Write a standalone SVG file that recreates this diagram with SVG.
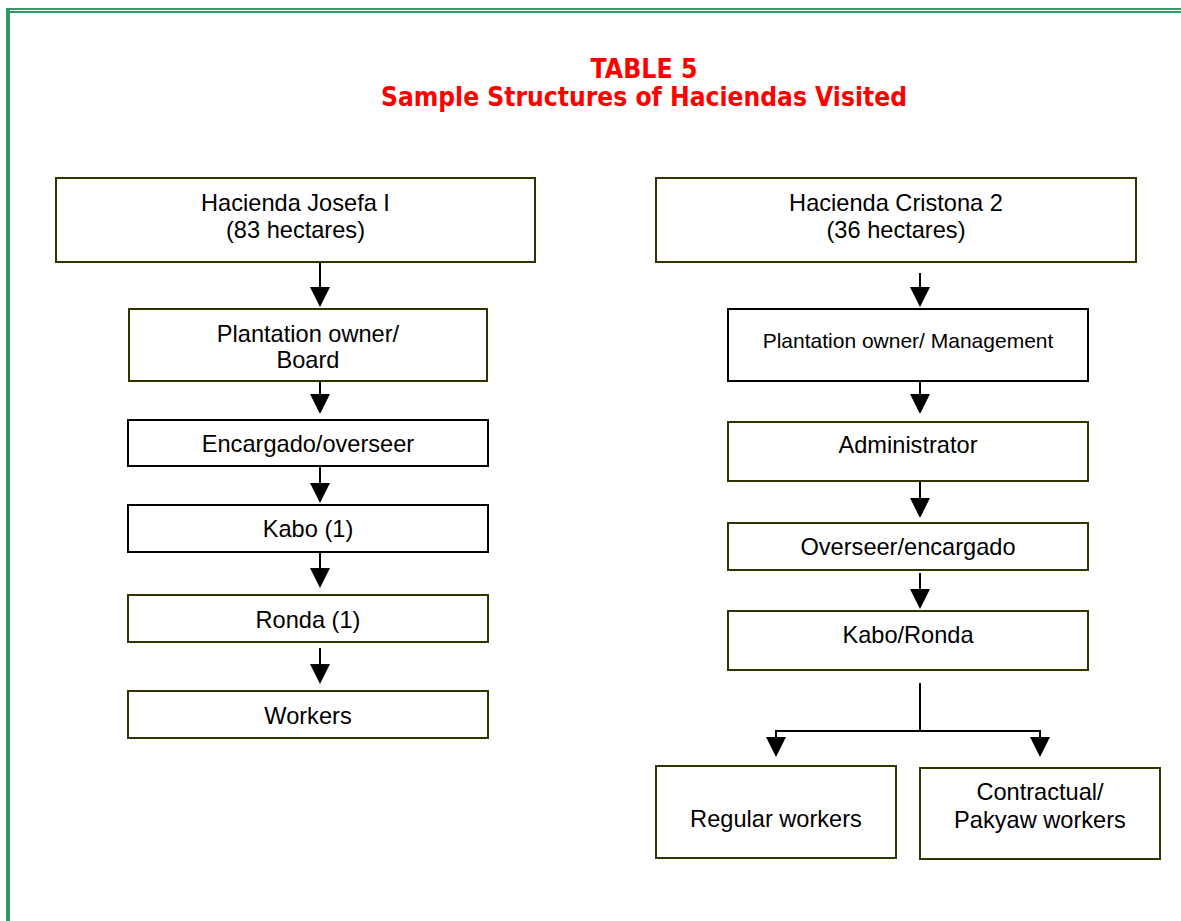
<svg xmlns="http://www.w3.org/2000/svg" width="1181" height="921" viewBox="0 0 1181 921">
<style>
.box{fill:#ffffff;stroke:#333300;stroke-width:2}
.boxk{fill:#ffffff;stroke:#000000;stroke-width:2}
.t{font-family:"Liberation Sans",Arial,sans-serif;font-size:23.6px;fill:#000000;text-anchor:middle}
.ts{font-family:"Liberation Sans",Arial,sans-serif;font-size:21px;fill:#000000;text-anchor:middle}
.title{font-family:"DejaVu Sans",Verdana,sans-serif;font-weight:bold;font-size:26px;fill:#ff0000;text-anchor:middle}
.c{stroke:#000000;stroke-width:2;fill:none}
.c.a{marker-end:url(#arr)}
.g{stroke:#339966;fill:none}
</style>
<defs>
<marker id="arr" viewBox="0 0 20 20" refX="10" refY="10" markerWidth="20" markerHeight="20" markerUnits="userSpaceOnUse" orient="auto">
<path d="M0,0 L20,10 L0,20 z" fill="#000000"/>
</marker>
</defs>
<rect width="1181" height="921" fill="#ffffff"/>
<g id="frame">
<line class="g" x1="6" y1="9" x2="1181" y2="9" stroke-width="2"/>
<line class="g" x1="8" y1="12" x2="1181" y2="12" stroke-width="2"/>
<line class="g" x1="8" y1="8" x2="8" y2="921" stroke-width="4"/>
</g>
<g id="title">
<text class="title" x="644" y="78" textLength="107" lengthAdjust="spacingAndGlyphs">TABLE 5</text>
<text class="title" x="644" y="106" textLength="526" lengthAdjust="spacingAndGlyphs">Sample Structures of Haciendas Visited</text>
</g>
<g id="connectors">
<line class="c a" x1="320" y1="262" x2="320" y2="297"/>
<line class="c a" x1="320" y1="381" x2="320" y2="404"/>
<line class="c a" x1="320" y1="467" x2="320" y2="493"/>
<line class="c a" x1="320" y1="553" x2="320" y2="578"/>
<line class="c a" x1="320" y1="648" x2="320" y2="674"/>
<line class="c a" x1="920" y1="273" x2="920" y2="297"/>
<line class="c a" x1="920" y1="381" x2="920" y2="404"/>
<line class="c a" x1="920" y1="482" x2="920" y2="508"/>
<line class="c a" x1="920" y1="573" x2="920" y2="599"/>
<line class="c" x1="920" y1="683" x2="920" y2="731"/>
<line class="c" x1="775" y1="731" x2="1041" y2="731"/>
<line class="c a" x1="776" y1="730" x2="776" y2="747"/>
<line class="c a" x1="1040" y1="730" x2="1040" y2="747"/>
</g>
<g id="josefa">
<rect class="box" x="56" y="178" width="479" height="84"/>
<text class="t" x="295.5" y="211">Hacienda Josefa I</text>
<text class="t" x="295.5" y="238">(83 hectares)</text>
</g>
<g id="owner-board">
<rect class="box" x="129" y="309" width="358" height="72"/>
<text class="t" x="308" y="342">Plantation owner/</text>
<text class="t" x="308" y="368">Board</text>
</g>
<g id="encargado">
<rect class="boxk" x="128" y="420" width="360" height="46"/>
<text class="t" x="308" y="452">Encargado/overseer</text>
</g>
<g id="kabo1">
<rect class="boxk" x="128" y="505" width="360" height="47"/>
<text class="t" x="308" y="537">Kabo (1)</text>
</g>
<g id="ronda1">
<rect class="box" x="128" y="595" width="360" height="47"/>
<text class="t" x="308" y="628">Ronda (1)</text>
</g>
<g id="workers">
<rect class="box" x="128" y="691" width="360" height="47"/>
<text class="t" x="308" y="724">Workers</text>
</g>
<g id="cristona">
<rect class="box" x="656" y="178" width="480" height="84"/>
<text class="t" x="896" y="211">Hacienda Cristona 2</text>
<text class="t" x="896" y="238">(36 hectares)</text>
</g>
<g id="owner-mgmt">
<rect class="boxk" x="728" y="309" width="360" height="72"/>
<text class="ts" x="908" y="348">Plantation owner/ Management</text>
</g>
<g id="administrator">
<rect class="box" x="728" y="422" width="360" height="59"/>
<text class="t" x="908" y="453">Administrator</text>
</g>
<g id="overseer">
<rect class="box" x="728" y="523" width="360" height="47"/>
<text class="t" x="908" y="555">Overseer/encargado</text>
</g>
<g id="kabo-ronda">
<rect class="box" x="728" y="611" width="360" height="59"/>
<text class="t" x="908" y="643">Kabo/Ronda</text>
</g>
<g id="regular">
<rect class="box" x="656" y="766" width="240" height="92"/>
<text class="t" x="776" y="827">Regular workers</text>
</g>
<g id="contractual">
<rect class="box" x="920" y="768" width="240" height="91"/>
<text class="t" x="1040" y="800">Contractual/</text>
<text class="t" x="1040" y="828">Pakyaw workers</text>
</g>
</svg>
